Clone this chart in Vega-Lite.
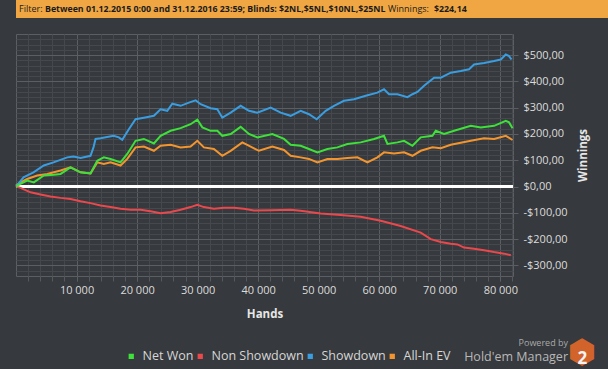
{
  "$schema": "https://vega.github.io/schema/vega-lite/v6.json",
  "background": "#36393d",
  "padding": 0,
  "spacing": 15,
  "title": {"text": "⬢", "subtitle": "2", "orient": "bottom", "anchor": "middle", "frame": "bounds", "font": "DejaVu Sans", "fontSize": 33, "fontWeight": "normal", "color": "#d2632b", "subtitleFont": "Open Sans", "subtitleFontSize": 17, "subtitleFontWeight": "bold", "subtitleColor": "#f4f4f4", "subtitlePadding": -19, "offset": -27, "dx": 270},
  "config": {
    "locale": {"number": {"decimal": ",", "thousands": " ", "grouping": [3], "currency": ["$", ""], "minus": "-"}},
    "font": "Open Sans",
    "view": {"stroke": "#5b5e62", "strokeWidth": 1},
    "axis": {"labelFont": "Open Sans", "titleFont": "Open Sans", "labelColor": "#dcdcdc", "titleColor": "#e6e6e6", "labelFontSize": 11, "titleFontSize": 11.5, "titleFontWeight": "bold"},
    "legend": {"labelFont": "Open Sans", "labelColor": "#d6d6d6", "labelFontSize": 12.5}
  },
  "vconcat": [
    {
      "hconcat": [
        {"width": 28, "height": 18, "data": {"values": [{}]}, "mark": {"type": "point", "opacity": 0}, "view": {"fill": "#f0a743", "stroke": null},
         "title": {"text": "Filter:", "anchor": "start", "frame": "group", "orient": "top", "offset": -14, "dx": 3, "fontSize": 9, "fontWeight": "normal", "font": "Open Sans", "color": "#1b1b1b"}},
        {"width": 343, "height": 18, "data": {"values": [{}]}, "mark": {"type": "point", "opacity": 0}, "view": {"fill": "#f0a743", "stroke": null},
         "title": {"text": "Between 01.12.2015 0:00 and 31.12.2016 23:59; Blinds: $2NL,$5NL,$10NL,$25NL", "anchor": "start", "frame": "group", "orient": "top", "offset": -14, "dx": 1, "fontSize": 8.8, "fontWeight": "bold", "font": "Open Sans", "color": "#1b1b1b"}},
        {"width": 46, "height": 18, "data": {"values": [{}]}, "mark": {"type": "point", "opacity": 0}, "view": {"fill": "#f0a743", "stroke": null},
         "title": {"text": "Winnings:", "anchor": "start", "frame": "group", "orient": "top", "offset": -14, "dx": 1, "fontSize": 9, "fontWeight": "normal", "font": "Open Sans", "color": "#1b1b1b"}},
        {"width": 191, "height": 18, "data": {"values": [{}]}, "mark": {"type": "point", "opacity": 0}, "view": {"fill": "#f0a743", "stroke": null},
         "title": {"text": "$224,14", "anchor": "start", "frame": "group", "orient": "top", "offset": -14, "dx": 1, "fontSize": 8.8, "fontWeight": "bold", "font": "Open Sans", "color": "#1b1b1b"}}
      ],
      "spacing": 0,
      "bounds": "flush"
    },
    {
      "width": 497,
      "height": 242,
      "title": {"text": "Powered by", "subtitle": "Hold'em Manager", "orient": "bottom", "anchor": "end", "frame": "group", "dx": 55, "offset": 19, "fontSize": 9, "fontWeight": "normal", "font": "Open Sans", "color": "#a9a9a9", "subtitleFont": "Open Sans", "subtitleFontSize": 12.5, "subtitleColor": "#b8b8b8", "subtitlePadding": 3},
      "data": {"values": [
        {"h":0,"s":"Non Showdown","v":0},{"h":740,"s":"Non Showdown","v":-5},{"h":2400,"s":"Non Showdown","v":-22},{"h":4050,"s":"Non Showdown","v":-30},{"h":5700,"s":"Non Showdown","v":-38},{"h":7360,"s":"Non Showdown","v":-43},{"h":9010,"s":"Non Showdown","v":-47},{"h":10660,"s":"Non Showdown","v":-56},{"h":12310,"s":"Non Showdown","v":-63},{"h":13970,"s":"Non Showdown","v":-72},{"h":15620,"s":"Non Showdown","v":-78},{"h":17270,"s":"Non Showdown","v":-84},{"h":18930,"s":"Non Showdown","v":-88},{"h":20580,"s":"Non Showdown","v":-88},{"h":22230,"s":"Non Showdown","v":-94},{"h":23880,"s":"Non Showdown","v":-101},{"h":25540,"s":"Non Showdown","v":-97},{"h":27190,"s":"Non Showdown","v":-88},{"h":28840,"s":"Non Showdown","v":-78},{"h":29950,"s":"Non Showdown","v":-69},{"h":31040,"s":"Non Showdown","v":-78},{"h":32690,"s":"Non Showdown","v":-84},{"h":34350,"s":"Non Showdown","v":-81},{"h":36000,"s":"Non Showdown","v":-81},{"h":37650,"s":"Non Showdown","v":-84},{"h":39310,"s":"Non Showdown","v":-91},{"h":42070,"s":"Non Showdown","v":-90},{"h":45370,"s":"Non Showdown","v":-88},{"h":47020,"s":"Non Showdown","v":-92},{"h":50330,"s":"Non Showdown","v":-102},{"h":53630,"s":"Non Showdown","v":-108},{"h":56940,"s":"Non Showdown","v":-115},{"h":60250,"s":"Non Showdown","v":-130},{"h":63550,"s":"Non Showdown","v":-150},{"h":66860,"s":"Non Showdown","v":-175},{"h":68510,"s":"Non Showdown","v":-200},{"h":70170,"s":"Non Showdown","v":-211},{"h":71820,"s":"Non Showdown","v":-217},{"h":72920,"s":"Non Showdown","v":-220},{"h":74020,"s":"Non Showdown","v":-232},{"h":75670,"s":"Non Showdown","v":-236},{"h":77320,"s":"Non Showdown","v":-242},{"h":78980,"s":"Non Showdown","v":-249},{"h":80630,"s":"Non Showdown","v":-255},{"h":81740,"s":"Non Showdown","v":-261},
        {"h":0,"s":"All-In EV","v":5},{"h":740,"s":"All-In EV","v":16},{"h":1850,"s":"All-In EV","v":29},{"h":3500,"s":"All-In EV","v":42},{"h":5160,"s":"All-In EV","v":48},{"h":7360,"s":"All-In EV","v":61},{"h":9010,"s":"All-In EV","v":73},{"h":10660,"s":"All-In EV","v":54},{"h":12310,"s":"All-In EV","v":50},{"h":13420,"s":"All-In EV","v":92},{"h":14510,"s":"All-In EV","v":86},{"h":15620,"s":"All-In EV","v":92},{"h":17270,"s":"All-In EV","v":80},{"h":18380,"s":"All-In EV","v":105},{"h":19750,"s":"All-In EV","v":149},{"h":21120,"s":"All-In EV","v":152},{"h":22780,"s":"All-In EV","v":136},{"h":23880,"s":"All-In EV","v":155},{"h":25540,"s":"All-In EV","v":159},{"h":27190,"s":"All-In EV","v":149},{"h":28840,"s":"All-In EV","v":152},{"h":29950,"s":"All-In EV","v":174},{"h":31040,"s":"All-In EV","v":149},{"h":32690,"s":"All-In EV","v":143},{"h":34080,"s":"All-In EV","v":117},{"h":35460,"s":"All-In EV","v":136},{"h":37390,"s":"All-In EV","v":168},{"h":38760,"s":"All-In EV","v":152},{"h":40130,"s":"All-In EV","v":136},{"h":42350,"s":"All-In EV","v":152},{"h":44270,"s":"All-In EV","v":139},{"h":45370,"s":"All-In EV","v":117},{"h":47020,"s":"All-In EV","v":111},{"h":48400,"s":"All-In EV","v":105},{"h":49790,"s":"All-In EV","v":92},{"h":51440,"s":"All-In EV","v":105},{"h":53090,"s":"All-In EV","v":105},{"h":54740,"s":"All-In EV","v":109},{"h":56400,"s":"All-In EV","v":111},{"h":58050,"s":"All-In EV","v":92},{"h":59700,"s":"All-In EV","v":111},{"h":60790,"s":"All-In EV","v":130},{"h":62450,"s":"All-In EV","v":126},{"h":64100,"s":"All-In EV","v":130},{"h":65490,"s":"All-In EV","v":117},{"h":66860,"s":"All-In EV","v":136},{"h":68790,"s":"All-In EV","v":149},{"h":70170,"s":"All-In EV","v":146},{"h":71820,"s":"All-In EV","v":159},{"h":75130,"s":"All-In EV","v":174},{"h":77320,"s":"All-In EV","v":184},{"h":78980,"s":"All-In EV","v":181},{"h":80910,"s":"All-In EV","v":193},{"h":82020,"s":"All-In EV","v":177},
        {"h":0,"s":"Showdown","v":0},{"h":1240,"s":"Showdown","v":35},{"h":2890,"s":"Showdown","v":54},{"h":4590,"s":"Showdown","v":80},{"h":6200,"s":"Showdown","v":92},{"h":8460,"s":"Showdown","v":111},{"h":9500,"s":"Showdown","v":114},{"h":10660,"s":"Showdown","v":109},{"h":12310,"s":"Showdown","v":117},{"h":12810,"s":"Showdown","v":150},{"h":13140,"s":"Showdown","v":181},{"h":13970,"s":"Showdown","v":184},{"h":16120,"s":"Showdown","v":193},{"h":16990,"s":"Showdown","v":187},{"h":17550,"s":"Showdown","v":178},{"h":18640,"s":"Showdown","v":218},{"h":19750,"s":"Showdown","v":256},{"h":21120,"s":"Showdown","v":262},{"h":22780,"s":"Showdown","v":269},{"h":23880,"s":"Showdown","v":294},{"h":24990,"s":"Showdown","v":288},{"h":25820,"s":"Showdown","v":315},{"h":27190,"s":"Showdown","v":307},{"h":28560,"s":"Showdown","v":319},{"h":29670,"s":"Showdown","v":328},{"h":30500,"s":"Showdown","v":313},{"h":32150,"s":"Showdown","v":298},{"h":33260,"s":"Showdown","v":294},{"h":34080,"s":"Showdown","v":262},{"h":35460,"s":"Showdown","v":281},{"h":37110,"s":"Showdown","v":307},{"h":38480,"s":"Showdown","v":288},{"h":39870,"s":"Showdown","v":281},{"h":42070,"s":"Showdown","v":300},{"h":43720,"s":"Showdown","v":281},{"h":45370,"s":"Showdown","v":269},{"h":47020,"s":"Showdown","v":288},{"h":48400,"s":"Showdown","v":275},{"h":49670,"s":"Showdown","v":256},{"h":51160,"s":"Showdown","v":288},{"h":52530,"s":"Showdown","v":307},{"h":54180,"s":"Showdown","v":326},{"h":55840,"s":"Showdown","v":332},{"h":57770,"s":"Showdown","v":345},{"h":59700,"s":"Showdown","v":357},{"h":60790,"s":"Showdown","v":370},{"h":61620,"s":"Showdown","v":351},{"h":63010,"s":"Showdown","v":351},{"h":64660,"s":"Showdown","v":340},{"h":65490,"s":"Showdown","v":351},{"h":66310,"s":"Showdown","v":360},{"h":67410,"s":"Showdown","v":383},{"h":69060,"s":"Showdown","v":414},{"h":70170,"s":"Showdown","v":414},{"h":71820,"s":"Showdown","v":433},{"h":73470,"s":"Showdown","v":439},{"h":74840,"s":"Showdown","v":446},{"h":75670,"s":"Showdown","v":464},{"h":77320,"s":"Showdown","v":470},{"h":78980,"s":"Showdown","v":477},{"h":80080,"s":"Showdown","v":483},{"h":80910,"s":"Showdown","v":502},{"h":81450,"s":"Showdown","v":496},{"h":81850,"s":"Showdown","v":483},
        {"h":0,"s":"Net Won","v":0},{"h":740,"s":"Net Won","v":10},{"h":1850,"s":"Net Won","v":23},{"h":2940,"s":"Net Won","v":16},{"h":4600,"s":"Net Won","v":42},{"h":6250,"s":"Net Won","v":45},{"h":7360,"s":"Net Won","v":48},{"h":9010,"s":"Net Won","v":73},{"h":10660,"s":"Net Won","v":54},{"h":12310,"s":"Net Won","v":50},{"h":13420,"s":"Net Won","v":98},{"h":14510,"s":"Net Won","v":111},{"h":15620,"s":"Net Won","v":105},{"h":17270,"s":"Net Won","v":92},{"h":18380,"s":"Net Won","v":124},{"h":19750,"s":"Net Won","v":174},{"h":21120,"s":"Net Won","v":181},{"h":22780,"s":"Net Won","v":164},{"h":23880,"s":"Net Won","v":193},{"h":25540,"s":"Net Won","v":212},{"h":27190,"s":"Net Won","v":222},{"h":28840,"s":"Net Won","v":237},{"h":29950,"s":"Net Won","v":254},{"h":30780,"s":"Net Won","v":225},{"h":32150,"s":"Net Won","v":212},{"h":33260,"s":"Net Won","v":212},{"h":34080,"s":"Net Won","v":193},{"h":35460,"s":"Net Won","v":200},{"h":37110,"s":"Net Won","v":227},{"h":38480,"s":"Net Won","v":200},{"h":39870,"s":"Net Won","v":187},{"h":42350,"s":"Net Won","v":200},{"h":44270,"s":"Net Won","v":181},{"h":45370,"s":"Net Won","v":159},{"h":47020,"s":"Net Won","v":155},{"h":48400,"s":"Net Won","v":143},{"h":49790,"s":"Net Won","v":130},{"h":51440,"s":"Net Won","v":143},{"h":53090,"s":"Net Won","v":149},{"h":54740,"s":"Net Won","v":162},{"h":56940,"s":"Net Won","v":168},{"h":59140,"s":"Net Won","v":181},{"h":60790,"s":"Net Won","v":193},{"h":61360,"s":"Net Won","v":162},{"h":63010,"s":"Net Won","v":168},{"h":64100,"s":"Net Won","v":174},{"h":65490,"s":"Net Won","v":155},{"h":66860,"s":"Net Won","v":187},{"h":68790,"s":"Net Won","v":193},{"h":69340,"s":"Net Won","v":212},{"h":70710,"s":"Net Won","v":200},{"h":72370,"s":"Net Won","v":212},{"h":75130,"s":"Net Won","v":231},{"h":76780,"s":"Net Won","v":225},{"h":78980,"s":"Net Won","v":231},{"h":80910,"s":"Net Won","v":250},{"h":81450,"s":"Net Won","v":244},{"h":82020,"s":"Net Won","v":222}
      ]},
      "layer": [
        {
          "mark": {"type": "point", "opacity": 0},
          "encoding": {
            "x": {"datum": 0, "type": "quantitative", "scale": {"domain": [0, 82100], "nice": false, "zero": false},
                  "axis": {"orient": "bottom", "values": [2000,4000,6000,8000,10000,12000,14000,16000,18000,20000,22000,24000,26000,28000,30000,32000,34000,36000,38000,40000,42000,44000,46000,48000,50000,52000,54000,56000,58000,60000,62000,64000,66000,68000,70000,72000,74000,76000,78000,80000,82000], "labels": false, "domain": false, "grid": true, "gridColor": "#45484c", "ticks": true, "tickSize": 5, "tickColor": "#55585c", "title": null}},
            "y": {"datum": 0, "type": "quantitative", "scale": {"domain": [-340, 580], "nice": false, "zero": false},
                  "axis": {"orient": "left", "values": [-320,-300,-280,-260,-240,-220,-200,-180,-160,-140,-120,-100,-80,-60,-40,-20,0,20,40,60,80,100,120,140,160,180,200,220,240,260,280,300,320,340,360,380,400,420,440,460,480,500,520,540,560], "labels": false, "domain": false, "grid": true, "gridColor": "#45484c", "ticks": false, "title": null, "minExtent": 15, "maxExtent": 15}}
          }
        },
        {
          "mark": {"type": "rule", "color": "#ffffff", "strokeWidth": 3},
          "encoding": {"y": {"datum": 0, "type": "quantitative", "axis": null}}
        },
        {
          "mark": {"type": "line", "strokeWidth": 2},
          "encoding": {
            "x": {"field": "h", "type": "quantitative", "scale": {"domain": [0, 82100], "nice": false, "zero": false},
                  "axis": {"orient": "bottom", "values": [10000,20000,30000,40000,50000,60000,70000,80000], "format": ",d", "grid": true, "gridColor": "#5b5e62", "ticks": true, "tickSize": 5, "tickColor": "#5b5e62", "domain": false, "labelPadding": 3, "title": "Hands", "titlePadding": 13}},
            "y": {"field": "v", "type": "quantitative", "scale": {"domain": [-340, 580], "nice": false, "zero": false},
                  "axis": {"orient": "right", "values": [-300,-200,-100,0,100,200,300,400,500], "format": "$.2f", "grid": true, "gridColor": "#5b5e62", "ticks": true, "tickSize": 5, "tickColor": "#5b5e62", "domain": false, "labelPadding": 5, "labelAlign": "left", "title": "Winnings", "titleAngle": 270, "titlePadding": 21}},
            "color": {"field": "s", "type": "nominal",
                      "scale": {"domain": ["Net Won", "Non Showdown", "Showdown", "All-In EV"], "range": ["#3ee03a", "#e9484c", "#3a9de0", "#f3952f"]},
                      "legend": {"orient": "none", "legendX": 109, "legendY": 350, "direction": "horizontal", "title": null, "symbolType": "square", "symbolSize": 28, "labelOffset": 5, "columnPadding": -7, "padding": 0,
                                 "encode": {"symbols": {"update": {"fill": {"scale": "color", "field": "value"}, "strokeWidth": {"value": 0}}}}}}
          }
        }
      ],
      "resolve": {"axis": {"x": "independent", "y": "independent"}}
    }
  ]
}
